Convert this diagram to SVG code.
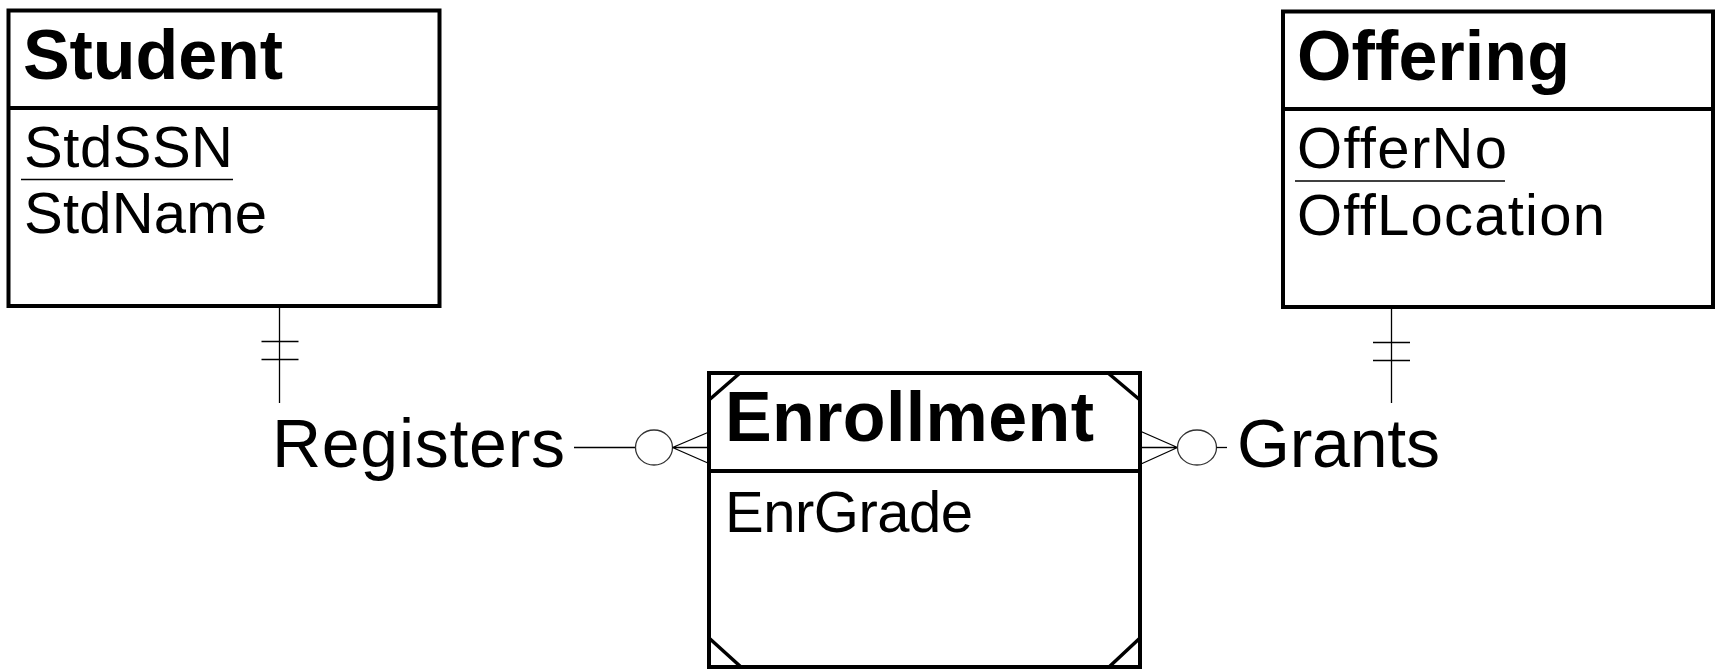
<svg xmlns="http://www.w3.org/2000/svg" width="1721" height="670" viewBox="0 0 1721 670">
<style>
.box{fill:#fff;stroke:#000;stroke-width:4}
.div{stroke:#000;stroke-width:4}
.corner{stroke:#000;stroke-width:3.5;fill:none}
.title{font-family:"Liberation Sans",Arial,sans-serif;font-weight:bold;font-size:70px;fill:#000}
.attr{font-family:"Liberation Sans",Arial,sans-serif;font-size:58px;fill:#000}
.rel{font-family:"Liberation Sans",Arial,sans-serif;font-size:68px;fill:#000}
.ul{stroke:#000;stroke-width:1.3}
.ln{stroke:#000;stroke-width:1.3;fill:none}
.circ{stroke:#333;stroke-width:1.3;fill:#fff}
</style>
<rect width="1721" height="670" fill="#fff"/>
<g id="connectors">
  <g id="student-registers">
    <line class="ln" x1="279.5" y1="306" x2="279.5" y2="403"/>
    <line class="ln" x1="261.5" y1="341.5" x2="298.5" y2="341.5"/>
    <line class="ln" x1="261.5" y1="359.5" x2="298.5" y2="359.5"/>
  </g>
  <g id="registers-enrollment">
    <line class="ln" x1="574" y1="447.5" x2="636" y2="447.5"/>
    <ellipse class="circ" cx="654" cy="447.5" rx="18.5" ry="17.5"/>
    <path class="ln" d="M672.5 447.5 L709 432 M672.5 447.5 L709 447.5 M672.5 447.5 L709 463.5"/>
  </g>
  <g id="offering-grants">
    <line class="ln" x1="1391.5" y1="307" x2="1391.5" y2="403"/>
    <line class="ln" x1="1373" y1="342.5" x2="1410" y2="342.5"/>
    <line class="ln" x1="1373" y1="360.5" x2="1410" y2="360.5"/>
  </g>
  <g id="grants-enrollment">
    <path class="ln" d="M1177.5 447.5 L1141 431.5 M1177.5 447.5 L1141 447.5 M1177.5 447.5 L1141 464"/>
    <ellipse class="circ" cx="1197" cy="447.5" rx="19.5" ry="17.5"/>
    <line class="ln" x1="1216.5" y1="447.5" x2="1227" y2="447.5"/>
  </g>
</g>
<g id="node-student">
  <rect class="box" x="8.5" y="10.5" width="431" height="295.5"/>
  <line class="div" x1="8.5" y1="108" x2="439.5" y2="108"/>
  <text class="title" x="23" y="79" textLength="260" lengthAdjust="spacing">Student</text>
  <text class="attr" x="24" y="167" textLength="209" lengthAdjust="spacing">StdSSN</text>
  <line class="ul" x1="21" y1="179.5" x2="233" y2="179.5"/>
  <text class="attr" x="24" y="233" textLength="243" lengthAdjust="spacing">StdName</text>
</g>
<g id="node-offering">
  <rect class="box" x="1283" y="11.5" width="430" height="295.5"/>
  <line class="div" x1="1283" y1="109" x2="1713" y2="109"/>
  <text class="title" x="1297" y="80" textLength="273" lengthAdjust="spacing">Offering</text>
  <text class="attr" x="1297" y="168" textLength="210" lengthAdjust="spacing">OfferNo</text>
  <line class="ul" x1="1295" y1="181" x2="1505" y2="181"/>
  <text class="attr" x="1297" y="235" textLength="308" lengthAdjust="spacing">OffLocation</text>
</g>
<g id="node-enrollment">
  <rect class="box" x="709" y="373" width="431" height="294"/>
  <line class="div" x1="709" y1="471" x2="1140" y2="471"/>
  <path class="corner" d="M709 400 L740 373 M1108 373 L1140 400 M709 638 L741 667 M1140 638 L1109 667"/>
  <text class="title" x="725" y="441" textLength="369" lengthAdjust="spacing">Enrollment</text>
  <text class="attr" x="725" y="532" textLength="248" lengthAdjust="spacing">EnrGrade</text>
</g>
<g id="label-registers">
  <text class="rel" x="272" y="467" textLength="293" lengthAdjust="spacing">Registers</text>
</g>
<g id="label-grants">
  <text class="rel" x="1237" y="467" textLength="203" lengthAdjust="spacing">Grants</text>
</g>
</svg>
